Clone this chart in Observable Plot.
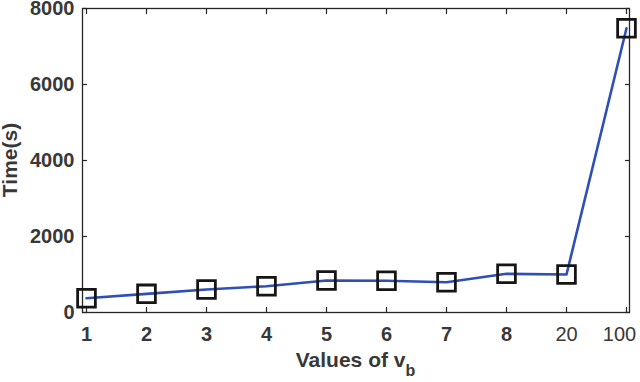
<!DOCTYPE html>
<html>
<head>
<meta charset="utf-8">
<script src="https://cdn.jsdelivr.net/npm/d3@7"></script>
<script src="https://cdn.jsdelivr.net/npm/@observablehq/plot@0.6"></script>
<style>
  html, body { margin: 0; padding: 0; background: #fff; }
</style>
</head>
<body>
<div id="chart"></div>
<script>
const categories = ["1", "2", "3", "4", "5", "6", "7", "8", "20", "100"];
const times = [376, 491, 605, 692, 842, 835, 798, 1018, 1000, 7480];
const yTicks = [0, 2000, 4000, 6000, 8000];
const lightLabels = ["20", "100"];
const xLabel = "Values of v";
const xLabelSub = "b";
const yLabel = "Time(s)";

const data = categories.map((c, i) => ({cat: c, time: times[i]}));

const W = 640, H = 382;
const mL = 82, mR = 11, mT = 8, mB = 70;
const textColor = "#383838";
const axisColor = "#262626";

const chart = Plot.plot({
  width: W,
  height: H,
  marginLeft: mL,
  marginRight: mR,
  marginTop: mT,
  marginBottom: mB,
  style: {
    fontFamily: "'Liberation Sans', Arial, sans-serif",
    fontSize: "20px",
    fontWeight: "bold",
    color: textColor,
    background: "white",
    overflow: "visible"
  },
  x: {type: "point", domain: categories, padding: 0, label: null},
  y: {domain: [0, 8000], label: null},
  marks: [
    Plot.axisX({anchor: "bottom", tickSize: 0, tickPadding: 14, label: null, fill: textColor}),
    Plot.axisX({anchor: "bottom", tickSize: -5, tickFormat: () => "", label: null, stroke: axisColor, strokeWidth: 1.2}),
    Plot.axisX({anchor: "top", tickSize: -5, tickFormat: () => "", label: null, stroke: axisColor, strokeWidth: 1.2}),
    Plot.axisY({anchor: "left", ticks: yTicks, tickFormat: d3.format("d"), tickSize: 0, tickPadding: 8, label: null, fill: textColor}),
    Plot.axisY({anchor: "left", ticks: yTicks, tickSize: -5, tickFormat: () => "", label: null, stroke: axisColor, strokeWidth: 1.2}),
    Plot.axisY({anchor: "right", ticks: yTicks, tickSize: -5, tickFormat: () => "", label: null, stroke: axisColor, strokeWidth: 1.2}),
    Plot.frame({stroke: axisColor, strokeWidth: 1.3}),
    Plot.line(data, {x: "cat", y: "time", stroke: "#2d4fb6", strokeWidth: 2.6}),
    Plot.dot(data, {x: "cat", y: "time", symbol: "square", r: 10, stroke: "#151515", strokeWidth: 2.8, fill: "none"})
  ]
});

const svg = d3.select(chart);

// the last two category labels are drawn in a lighter weight, and "100" sits left of its tick
svg.selectAll("text").filter(function () {
  return lightLabels.includes(this.textContent);
}).each(function () {
  const t = d3.select(this);
  t.style("font-weight", "normal");
  if (this.textContent === lightLabels[lightLabels.length - 1]) t.attr("dx", -7);
});

const cx = (mL + (W - mR)) / 2;
const cy = (mT + (H - mB)) / 2;

const xl = svg.append("text")
  .attr("x", cx)
  .attr("y", 367)
  .attr("text-anchor", "middle")
  .attr("fill", textColor)
  .style("font-size", "21px")
  .style("font-weight", "bold");
xl.append("tspan").text(xLabel);
xl.append("tspan").attr("dy", 9).style("font-size", "16px").text(xLabelSub);

svg.append("text")
  .attr("transform", `translate(17,${cy}) rotate(-90)`)
  .attr("text-anchor", "middle")
  .attr("fill", textColor)
  .style("font-size", "21px")
  .style("font-weight", "bold")
  .text(yLabel);

document.getElementById("chart").appendChild(chart);
</script>
</body>
</html>
